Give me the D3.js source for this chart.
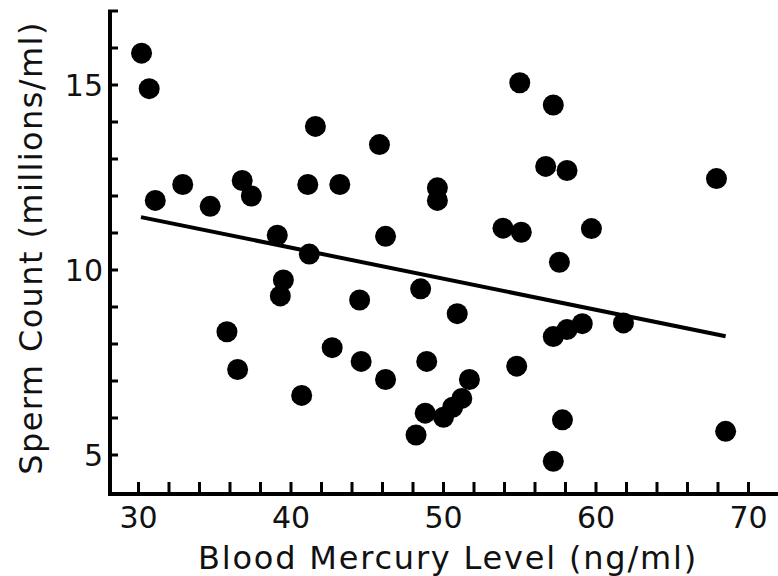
<!DOCTYPE html>
<html>
<head>
<meta charset="utf-8">
<script src="https://cdn.jsdelivr.net/npm/d3@7"></script>
<style>
	body { margin: 0; background: white; }
	text { font-family: "DejaVu Sans", Verdana, sans-serif; fill: #111; }
</style>
</head>
<body>
<script>

// blood mercury (ng/ml) and sperm count (millions/ml)
var mercury = [
	30.2, 30.7, 31.1, 32.9, 34.7, 36.8, 37.4, 35.8, 36.5, 39.1,
	41.2, 39.5, 39.3, 40.7, 41.1, 41.6, 42.7, 43.2, 44.5, 44.6,
	45.8, 46.2, 46.2, 48.2, 48.5, 48.8, 48.9, 49.6, 49.6, 50.0,
	50.6, 50.9, 51.2, 51.7, 53.9, 55.1, 55.0, 54.8, 56.7, 57.2,
	57.2, 57.6, 57.8, 57.2, 58.1, 58.1, 59.1, 59.7, 61.8, 67.9,
	68.5
]
var sperm = [
	15.86, 14.90, 11.88, 12.31, 11.72, 12.42, 12.00, 8.33, 7.31, 10.94,
	10.43, 9.73, 9.30, 6.61, 12.31, 13.88, 7.90, 12.31, 9.19, 7.53,
	13.39, 10.91, 7.04, 5.54, 9.49, 6.13, 7.53, 12.22, 11.88, 6.02,
	6.29, 8.82, 6.53, 7.04, 11.13, 11.02, 15.06, 7.40, 12.80, 14.46,
	8.20, 10.21, 5.95, 4.83, 12.69, 8.39, 8.55, 11.12, 8.57, 12.47,
	5.64
]

// fitted line end points
var fitX = [30.16, 68.5]
var fitY = [11.43, 8.21]

var xTicks = [30, 40, 50, 60, 70]
var yTicks = [5, 10, 15]

var width = 778,
	height = 576

var svg = d3.select("body").append("svg")
	.attr("width", width)
	.attr("height", height)

var x = d3.scaleLinear()
	.domain([28, 72])
	.range([108, 779])

var y = d3.scaleLinear()
	.domain([4, 17])
	.range([492, 11])

var points = mercury.map((d, i) => ({x: d, y: sperm[i]}))

// minor ticks every 2 on x, every 1 on y, all pointing inward
svg.selectAll('.xtick')
	.data(d3.range(30, 71, 2))
	.enter()
	.append('line')
		.attr('x1', d => x(d))
		.attr('x2', d => x(d))
		.attr('y1', y(4))
		.attr('y2', y(4) - 10)
		.attr('stroke', 'black')
		.attr('stroke-width', 3)

svg.selectAll('.ytick')
	.data(d3.range(5, 18, 1))
	.enter()
	.append('line')
		.attr('x1', x(28))
		.attr('x2', x(28) + 10)
		.attr('y1', d => y(d))
		.attr('y2', d => y(d))
		.attr('stroke', 'black')
		.attr('stroke-width', 3)

// axis lines
svg.append('path')
	.attr('d', 'M' + (x(28) + 2) + ',' + y(17) + 'V' + (y(4) + 2) + 'H' + width)
	.attr('fill', 'none')
	.attr('stroke', 'black')
	.attr('stroke-width', 4)

svg.selectAll('.xlabel')
	.data(xTicks)
	.enter()
	.append('text')
		.attr('x', d => x(d))
		.attr('y', 528)
		.attr('text-anchor', 'middle')
		.style('font-size', '30px')
		.text(d => d)

svg.selectAll('.ylabel')
	.data(yTicks)
	.enter()
	.append('text')
		.attr('x', 103)
		.attr('y', d => y(d) + 11)
		.attr('text-anchor', 'end')
		.style('font-size', '30px')
		.text(d => d)

svg.append('text')
	.attr('x', 448)
	.attr('y', 569)
	.attr('text-anchor', 'middle')
	.style('font-size', '32px')
	.style('letter-spacing', '1.8px')
	.text('Blood Mercury Level (ng/ml)')

svg.append('text')
	.attr('transform', 'translate(42,248) rotate(-90)')
	.attr('text-anchor', 'middle')
	.style('font-size', '32px')
	.style('letter-spacing', '1.4px')
	.text('Sperm Count (millions/ml)')

// regression line
svg.append('line')
	.attr('x1', x(fitX[0]))
	.attr('y1', y(fitY[0]))
	.attr('x2', x(fitX[1]))
	.attr('y2', y(fitY[1]))
	.attr('stroke', 'black')
	.attr('stroke-width', 4)

svg.selectAll('circle')
	.data(points)
	.enter()
	.append('circle')
		.attr('cx', d => x(d.x))
		.attr('cy', d => y(d.y))
		.attr('r', 10.5)
		.attr('fill', 'black')

</script>
</body>
</html>
